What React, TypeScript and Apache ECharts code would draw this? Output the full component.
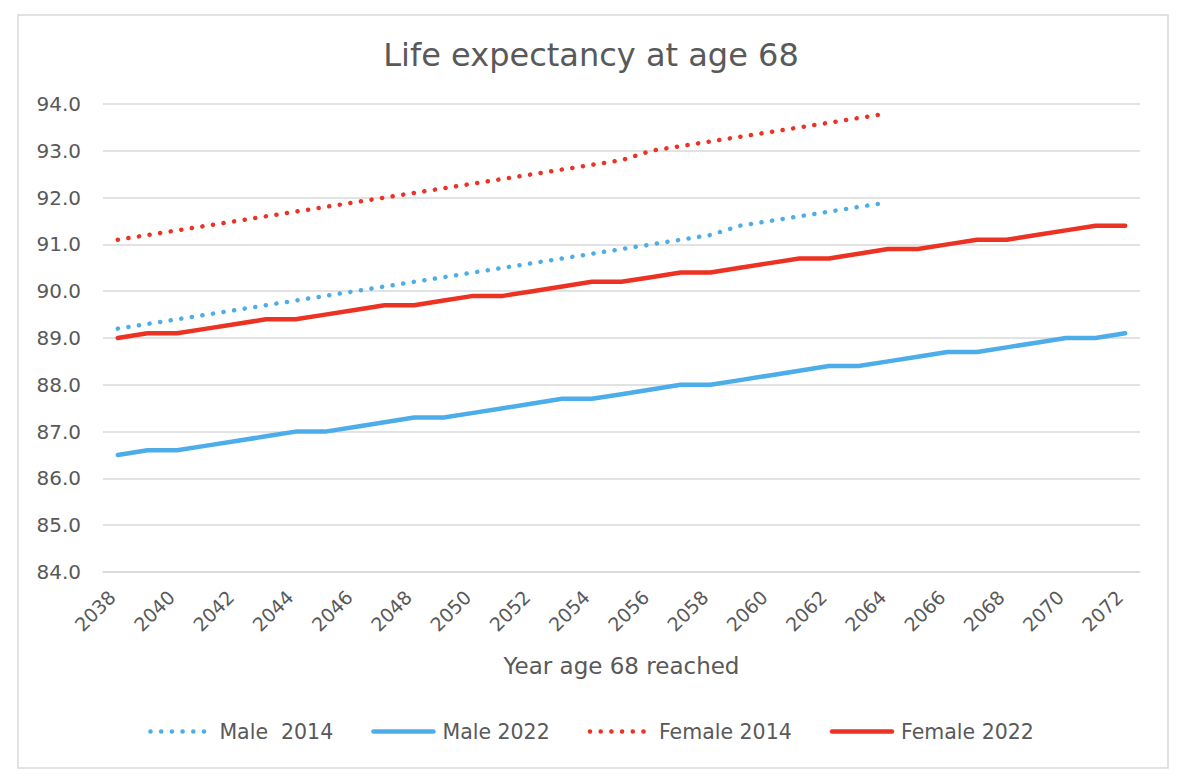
import React, { useEffect, useRef } from "react";
import * as echarts from "echarts";

const years: string[] = [];
for (let y = 2038; y <= 2072; y++) years.push(String(y));

const male2014 = [89.2, 89.3, 89.4, 89.5, 89.6, 89.7, 89.8, 89.9, 90.0, 90.1, 90.2, 90.3, 90.4, 90.5, 90.6, 90.7, 90.8, 90.9, 91.0, 91.1, 91.2, 91.4, 91.5, 91.6, 91.7, 91.8, 91.9];
const male2022 = [86.5, 86.6, 86.6, 86.7, 86.8, 86.9, 87.0, 87.0, 87.1, 87.2, 87.3, 87.3, 87.4, 87.5, 87.6, 87.7, 87.7, 87.8, 87.9, 88.0, 88.0, 88.1, 88.2, 88.3, 88.4, 88.4, 88.5, 88.6, 88.7, 88.7, 88.8, 88.9, 89.0, 89.0, 89.1];
const female2014 = [91.1, 91.2, 91.3, 91.4, 91.5, 91.6, 91.7, 91.8, 91.9, 92.0, 92.1, 92.2, 92.3, 92.4, 92.5, 92.6, 92.7, 92.8, 93.0, 93.1, 93.2, 93.3, 93.4, 93.5, 93.6, 93.7, 93.8];
const female2022 = [89.0, 89.1, 89.1, 89.2, 89.3, 89.4, 89.4, 89.5, 89.6, 89.7, 89.7, 89.8, 89.9, 89.9, 90.0, 90.1, 90.2, 90.2, 90.3, 90.4, 90.4, 90.5, 90.6, 90.7, 90.7, 90.8, 90.9, 90.9, 91.0, 91.1, 91.1, 91.2, 91.3, 91.4, 91.4];

const seriesNames = ["Male  2014", "Male 2022", "Female 2014", "Female 2022"];

const BLUE = "#4DADE9";
const RED = "#EB3223";
const TEXT = "#595959";
const FONT = "'DejaVu Sans', sans-serif";

export default function App() {
  const ref = useRef<HTMLDivElement>(null);
  useEffect(() => {
    if (!ref.current) return;
    const chart = echarts.init(ref.current, undefined, { renderer: "svg" });
    const dotted = { width: 4.5, type: [0.1, 10.6] as number[], cap: "round" as const };
    const solid = { width: 4.5, type: "solid" as const, cap: "round" as const, join: "round" as const };
    chart.setOption({
      animation: false,
      backgroundColor: "#ffffff",
      textStyle: { fontFamily: FONT },
      title: {
        text: "Life expectancy at age 68",
        left: "center",
        top: 34,
        textStyle: { fontFamily: FONT, fontSize: 32, fontWeight: "normal", color: TEXT },
      },
      graphic: [
        {
          type: "rect",
          shape: { x: 18, y: 15, width: 1150, height: 753 },
          style: { fill: "none", stroke: "#d9d9d9", lineWidth: 1.5 },
          silent: true,
        },
      ],
      legend: {
        left: "center",
        top: 716,
        itemWidth: 60,
        itemHeight: 14,
        itemGap: 38,
        itemStyle: { opacity: 0 },
        lineStyle: { width: 4.5, cap: "round" },
        textStyle: { fontFamily: FONT, fontSize: 20.5, color: TEXT, padding: [0, 0, 0, 4] },
        data: seriesNames,
      },
      grid: { left: 103, right: 42, top: 104, bottom: 212, containLabel: false },
      xAxis: {
        type: "category",
        data: years,
        boundaryGap: true,
        name: "Year age 68 reached",
        nameLocation: "middle",
        nameGap: 82,
        nameTextStyle: { fontFamily: FONT, fontSize: 23, color: TEXT },
        axisLine: { lineStyle: { color: "#d9d9d9", width: 1.5 } },
        axisTick: { show: false },
        axisLabel: {
          interval: 1,
          rotate: 45,
          margin: 16,
          padding: [0, 8, 0, 0],
          fontFamily: FONT,
          fontSize: 19,
          color: TEXT,
        },
      },
      yAxis: {
        type: "value",
        min: 84,
        max: 94,
        interval: 1,
        axisLine: { show: false },
        axisTick: { show: false },
        splitLine: { lineStyle: { color: "#d9d9d9", width: 1.5 } },
        axisLabel: {
          margin: 22,
          fontFamily: FONT,
          fontSize: 20,
          color: TEXT,
          formatter: (v: number) => v.toFixed(1),
        },
      },
      series: [
        { name: seriesNames[0], type: "line", data: male2014, symbol: "none", color: BLUE, lineStyle: { color: BLUE, ...dotted } },
        { name: seriesNames[1], type: "line", data: male2022, symbol: "none", color: BLUE, lineStyle: { color: BLUE, ...solid } },
        { name: seriesNames[2], type: "line", data: female2014, symbol: "none", color: RED, lineStyle: { color: RED, ...dotted } },
        { name: seriesNames[3], type: "line", data: female2022, symbol: "none", color: RED, lineStyle: { color: RED, ...solid } },
      ],
    });
    return () => chart.dispose();
  }, []);
  return (
    <div
      ref={ref}
      style={{ position: "fixed", left: 0, top: 0, width: 1182, height: 784 }}
    />
  );
}
